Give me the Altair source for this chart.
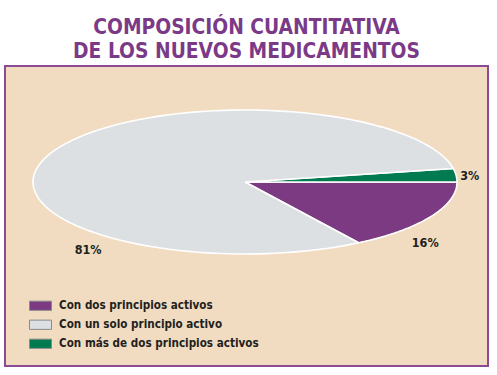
import altair as alt
import pandas as pd

# ---- data ----
categories = ["Con dos principios activos", "Con más de dos principios activos", "Con un solo principio activo"]
values = [16, 3, 81]
legend_order = ["Con dos principios activos", "Con un solo principio activo", "Con más de dos principios activos"]
colors = {"Con dos principios activos": "#7b3a82",
          "Con un solo principio activo": "#dce0e2",
          "Con más de dos principios activos": "#007a50"}
label_text = ["16%", "3%", "81%"]

# label anchor positions (unit ellipse coords) - layout only
label_x = [0.85, 1.06, -0.74]
label_y = [-0.85, 0.08, -0.94]

FONT = "Liberation Sans Narrow, DejaVu Sans Condensed, Arial Narrow, sans-serif"
N = 120
total = sum(values)
rot = values[0] / total  # purple slice ends at east

df = pd.DataFrame({"cat": categories, "value": values, "ord": list(range(len(values)))})
lab = pd.DataFrame({"t": label_text, "lx": label_x, "ly": label_y})

xs = alt.Scale(domain=[-1, 1], range=[28, 452])
ys = alt.Scale(domain=[-1, 1], range=[188, 44])

pie = (
    alt.Chart(df)
    .transform_window(cum="sum(value)", sort=[{"field": "ord"}])
    .transform_joinaggregate(tot="sum(value)")
    .transform_calculate(
        a0=f"2*PI*((datum.cum - datum.value)/datum.tot - {rot})",
        a1=f"2*PI*(datum.cum/datum.tot - {rot})",
        idx=f"sequence(0, {N + 3})",
    )
    .transform_flatten(["idx"])
    .transform_calculate(
        tt=f"min(max(datum.idx - 1, 0), {N}) / {N}",
    )
    .transform_calculate(
        ang="datum.a0 + (datum.a1 - datum.a0) * datum.tt",
    )
    .transform_calculate(
        px=f"(datum.idx == 0 || datum.idx == {N + 2}) ? 0 : cos(datum.ang)",
        py=f"(datum.idx == 0 || datum.idx == {N + 2}) ? 0 : sin(datum.ang)",
    )
    .mark_line(stroke="white", strokeWidth=1.6, strokeJoin="round", interpolate="linear")
    .encode(
        x=alt.X("px:Q", scale=xs, axis=None),
        y=alt.Y("py:Q", scale=ys, axis=None),
        order=alt.Order("idx:Q"),
        detail="cat:N",
        fill=alt.Fill(
            "cat:N",
            scale=alt.Scale(domain=legend_order, range=[colors[c] for c in legend_order]),
            legend=alt.Legend(
                title=None, orient="none", legendX=24, legendY=230.5,
                symbolType="M-1,-0.42H1V0.42H-1Z", symbolSize=484,
                symbolStrokeColor="#8a8a8a", symbolStrokeWidth=1,
                clipHeight=18.5, rowPadding=0, labelOffset=7,
                labelFont=FONT, labelFontSize=11.6, labelFontWeight="bold",
                labelColor="#231f20", labelLimit=400,
            ),
        ),
    )
)

labels = alt.Chart(lab).mark_text(
    font=FONT, fontSize=12.5, fontWeight="bold", color="#231f20"
).encode(
    x=alt.X("lx:Q", scale=xs, axis=None),
    y=alt.Y("ly:Q", scale=ys, axis=None),
    text="t:N",
)

chart = (
    alt.layer(pie, labels)
    .properties(
        width=483, height=300,
        padding={"left": 5, "top": 66, "right": 9, "bottom": 9},
        autosize="none",
        background="white",
        title=alt.Title(
            ["COMPOSICIÓN CUANTITATIVA", "DE LOS NUEVOS MEDICAMENTOS"],
            font=FONT, fontSize=20.8, fontWeight="bold", color="#7b3a87",
            anchor="middle", offset=3, lineHeight=24,
        ),
    )
    .configure_view(fill="#f1dcc1", stroke="#8b4a91", strokeWidth=2)
)

chart.save("out.html", embed_options={"renderer": "svg", "actions": False})
